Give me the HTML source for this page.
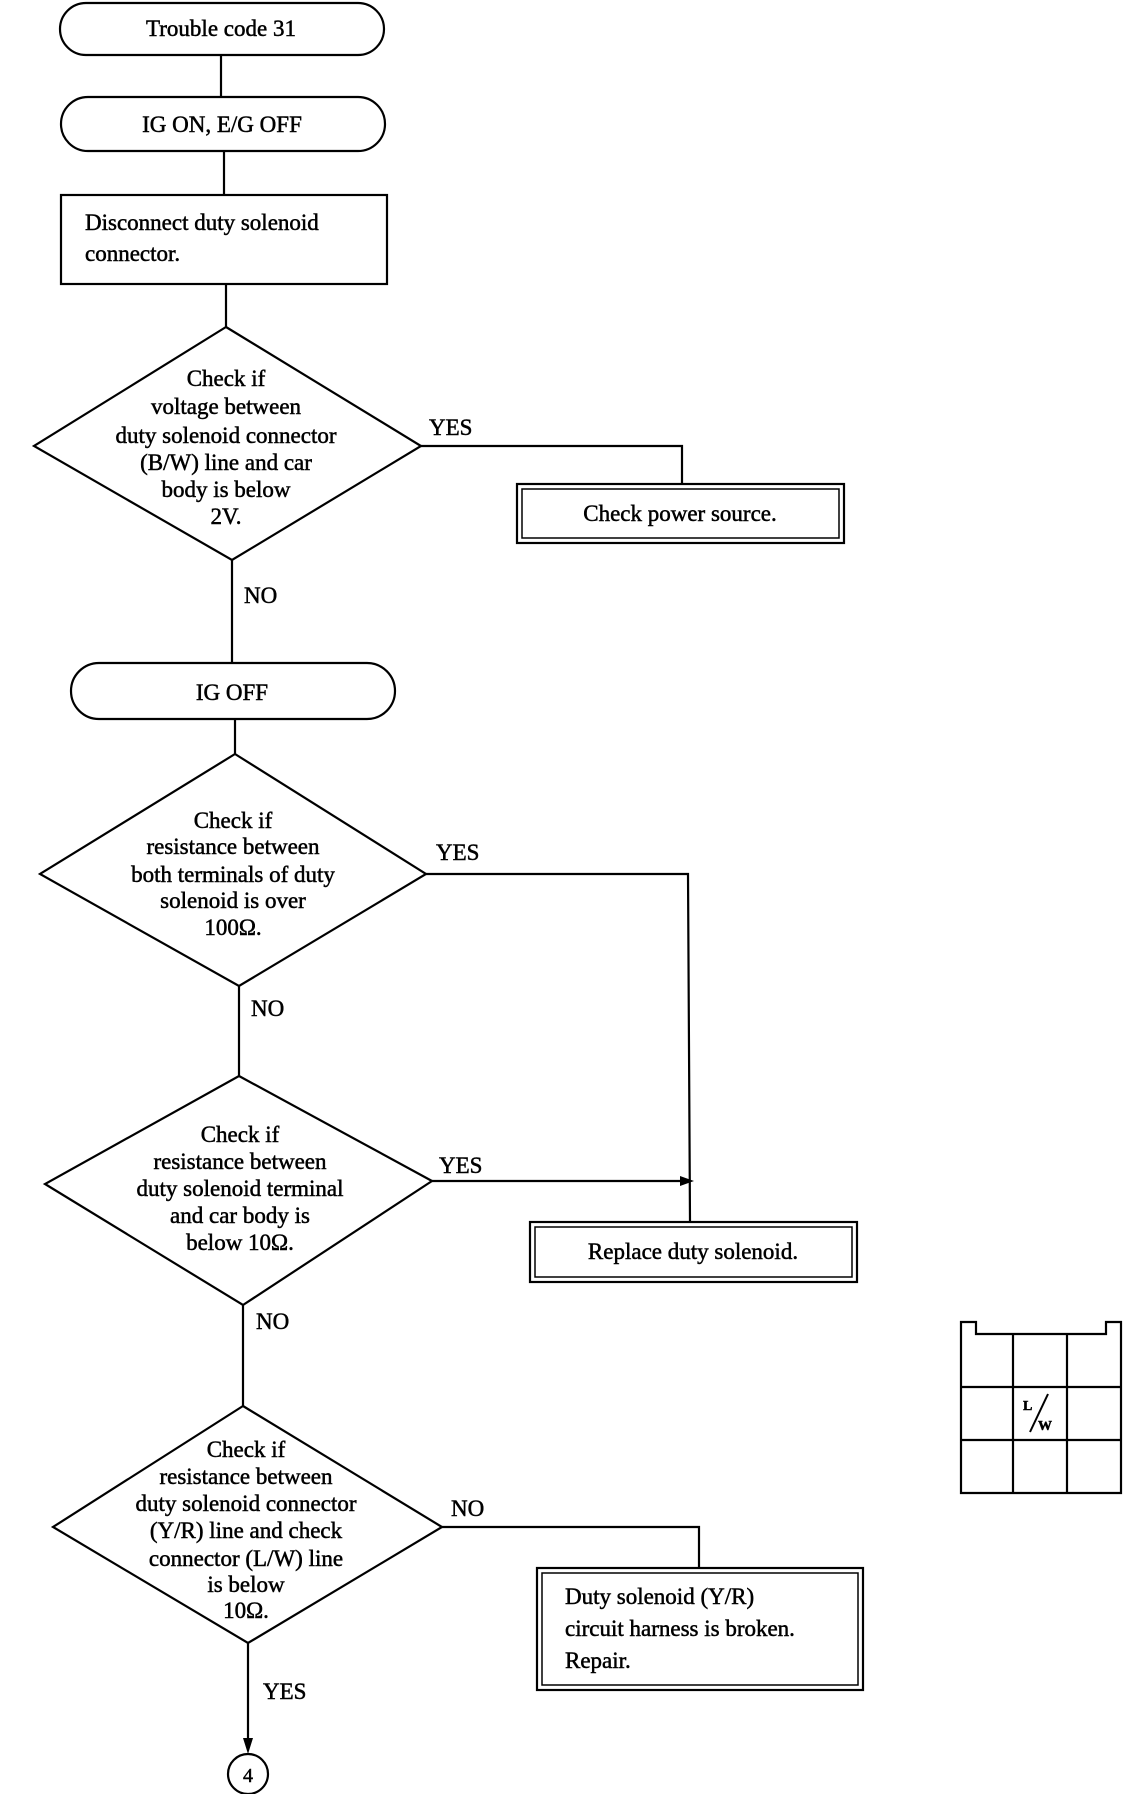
<!DOCTYPE html>
<html><head><meta charset="utf-8"><style>
html,body{margin:0;padding:0;background:#fff;}
svg{display:block;}
text{font-family:"Liberation Serif",serif;font-size:23px;fill:#000;stroke:#000;stroke-width:0.5;}
</style></head><body>
<svg width="1136" height="1794" viewBox="0 0 1136 1794" xmlns="http://www.w3.org/2000/svg">
<g fill="none" stroke="#000" stroke-width="2.2">
<rect x="60" y="3" width="324" height="52" rx="26"/>
<line x1="221" y1="55" x2="221" y2="97"/>
<rect x="61" y="97" width="324" height="54" rx="27"/>
<line x1="224" y1="151" x2="224" y2="195"/>
<rect x="61" y="195" width="326" height="89"/>
<line x1="226" y1="284" x2="226" y2="327"/>
<polygon points="226,327 421,446 232,560 34,446"/>
<polyline points="421,446 682,446 682,484"/>
<rect x="517" y="484" width="327" height="59"/>
<rect x="522" y="489" width="317" height="49" stroke-width="1.5"/>
<line x1="232" y1="560" x2="232" y2="663"/>
<rect x="71" y="663" width="324" height="56" rx="28"/>
<line x1="235" y1="719" x2="235" y2="754"/>
<polygon points="235,754 426,874 239,986 40,874"/>
<polyline points="426,874 688,874 690,1222"/>
<line x1="239" y1="986" x2="239" y2="1076"/>
<polygon points="239,1076 432,1181 243,1305 45,1184"/>
<line x1="432" y1="1181" x2="684" y2="1181"/>
<rect x="530" y="1222" width="327" height="60"/>
<rect x="535" y="1227" width="317" height="50" stroke-width="1.5"/>
<line x1="243" y1="1305" x2="243" y2="1406"/>
<polygon points="243,1406 442,1527 248,1643 53,1527"/>
<polyline points="442,1527 699,1527 699,1568"/>
<rect x="537" y="1568" width="326" height="122"/>
<rect x="542" y="1573" width="316" height="112" stroke-width="1.5"/>
<line x1="248" y1="1643" x2="248" y2="1740"/>
<circle cx="248" cy="1774" r="20"/>
<path d="M961,1493 V1322 H976 V1334 H1106 V1322 H1121 V1493 Z"/>
<line x1="1013" y1="1334" x2="1013" y2="1493"/>
<line x1="1067" y1="1334" x2="1067" y2="1493"/>
<line x1="961" y1="1387" x2="1121" y2="1387"/>
<line x1="961" y1="1440" x2="1121" y2="1440"/>
<line x1="1030" y1="1432" x2="1048" y2="1394" stroke-width="2"/>
</g>
<polygon points="694,1181 680,1176 680,1186" fill="#000"/>
<polygon points="248,1754 243,1738 253,1738" fill="#000"/>
<g text-anchor="middle">
<text x="221" y="36">Trouble code 31</text>
<text x="222" y="132">IG ON, E/G OFF</text>
<text x="226" y="386">Check if</text>
<text x="226" y="414">voltage between</text>
<text x="226" y="443">duty solenoid connector</text>
<text x="226" y="470">(B/W) line and car</text>
<text x="226" y="497">body is below</text>
<text x="226" y="524">2V.</text>
<text x="680" y="521">Check power source.</text>
<text x="232" y="700">IG OFF</text>
<text x="233" y="828">Check if</text>
<text x="233" y="854">resistance between</text>
<text x="233" y="882">both terminals of duty</text>
<text x="233" y="908">solenoid is over</text>
<text x="233" y="935">100Ω.</text>
<text x="240" y="1142">Check if</text>
<text x="240" y="1169">resistance between</text>
<text x="240" y="1196">duty solenoid terminal</text>
<text x="240" y="1223">and car body is</text>
<text x="240" y="1250">below 10Ω.</text>
<text x="693" y="1259">Replace duty solenoid.</text>
<text x="246" y="1457">Check if</text>
<text x="246" y="1484">resistance between</text>
<text x="246" y="1511">duty solenoid connector</text>
<text x="246" y="1538">(Y/R) line and check</text>
<text x="246" y="1566">connector (L/W) line</text>
<text x="246" y="1592">is below</text>
<text x="246" y="1618">10Ω.</text>
<text x="248" y="1782" style="font-size:20px">4</text>
</g>
<text x="85" y="230">Disconnect duty solenoid</text>
<text x="85" y="261">connector.</text>
<text x="429" y="435">YES</text>
<text x="244" y="603">NO</text>
<text x="436" y="860">YES</text>
<text x="251" y="1016">NO</text>
<text x="439" y="1173">YES</text>
<text x="256" y="1329">NO</text>
<text x="451" y="1516">NO</text>
<text x="263" y="1699">YES</text>
<text x="565" y="1604">Duty solenoid (Y/R)</text>
<text x="565" y="1636">circuit harness is broken.</text>
<text x="565" y="1668">Repair.</text>
<text x="1023" y="1410" style="font-size:14px;font-weight:bold">L</text>
<text x="1038" y="1430" style="font-size:14px;font-weight:bold">W</text>
</svg>
</body></html>
